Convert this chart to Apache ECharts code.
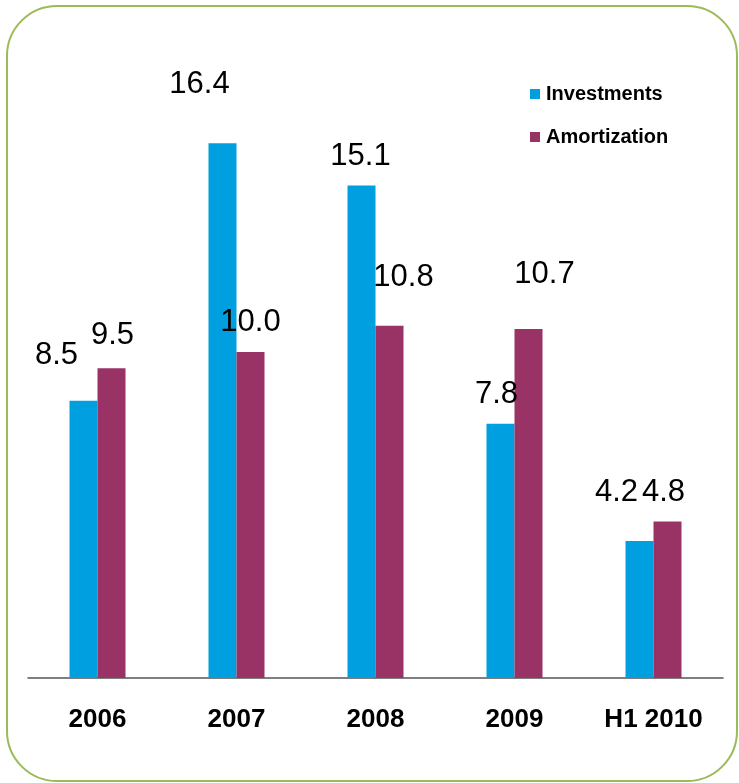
<!DOCTYPE html>
<html>
<head>
<meta charset="utf-8">
<script src="https://cdn.jsdelivr.net/npm/echarts@6/dist/echarts.min.js"></script>
<style>
html,body{margin:0;padding:0;background:#fff;}
#c{width:739px;height:783px;}
</style>
</head>
<body>
<div id="c"></div>
<script>
const categories = ['2006', '2007', '2008', '2009', 'H1 2010'];
const investments = [8.5, 16.4, 15.1, 7.8, 4.2];
const amortization = [9.5, 10.0, 10.8, 10.7, 4.8];
const seriesNames = ['Investments', 'Amortization'];

// label offsets (style only)
const invOffsets = [[-27, -30], [-23, -43], [-1, -14], [-4, -14], [-23, -33]];
const amoOffsets = [[1, -17], [0, -14], [14, -33], [16, -39], [-4, -14]];

const labelFont = { fontFamily: 'Liberation Sans, Arial, sans-serif', fontSize: 31, color: '#000' };

function build(values, offsets) {
  return values.map((v, i) => ({
    value: v,
    label: { offset: offsets[i] }
  }));
}

const chart = echarts.init(document.getElementById('c'), null, { renderer: 'canvas' });
chart.setOption({
  animation: false,
  backgroundColor: '#fff',
  graphic: [{
    type: 'rect',
    shape: { x: 7, y: 6, width: 730, height: 775, r: 50 },
    style: { fill: 'none', stroke: '#9bbb59', lineWidth: 2 },
    z: 0
  }],
  legend: {
    orient: 'vertical',
    left: 530,
    top: 84,
    padding: 0,
    itemWidth: 10,
    itemHeight: 10,
    itemGap: 23,
    icon: 'rect',
    textStyle: { fontFamily: 'Liberation Sans, Arial, sans-serif', fontSize: 20, fontWeight: 'bold', color: '#000', padding: [0, 0, 0, 1] },
    data: seriesNames
  },
  grid: { left: 28, right: 16, top: 91, bottom: 105, containLabel: false },
  xAxis: {
    type: 'category',
    data: categories,
    axisLine: { lineStyle: { color: '#555', width: 1.5 } },
    axisTick: { show: false },
    axisLabel: {
      margin: 29,
      fontFamily: 'Liberation Sans, Arial, sans-serif',
      fontSize: 26,
      fontWeight: 'bold',
      color: '#000'
    }
  },
  yAxis: {
    type: 'value',
    min: 0,
    max: 18,
    show: false,
    splitLine: { show: false }
  },
  series: [
    {
      name: seriesNames[0],
      type: 'bar',
      barWidth: 28,
      barGap: '0%',
      itemStyle: { color: '#009fdf' },
      label: Object.assign({ show: true, position: 'top', distance: 0, formatter: p => p.value.toFixed(1) }, labelFont),
      data: build(investments, invOffsets)
    },
    {
      name: seriesNames[1],
      type: 'bar',
      barWidth: 28,
      barGap: '0%',
      itemStyle: { color: '#993366' },
      label: Object.assign({ show: true, position: 'top', distance: 0, formatter: p => p.value.toFixed(1) }, labelFont),
      data: build(amortization, amoOffsets)
    }
  ]
});
</script>
</body>
</html>
